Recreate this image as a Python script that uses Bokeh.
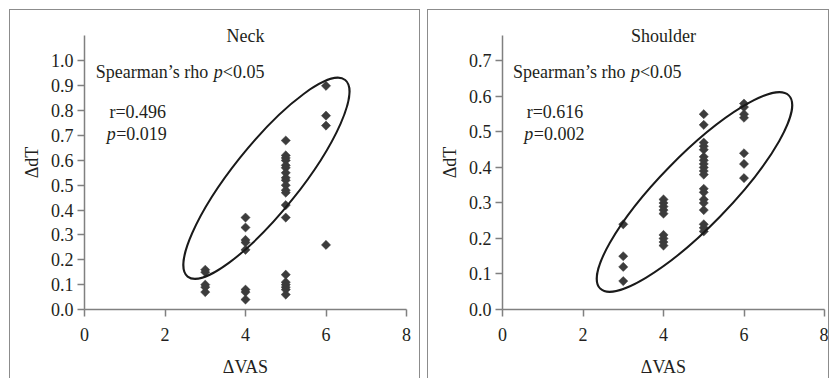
import numpy as np
from bokeh.plotting import figure
from bokeh.layouts import row
from bokeh.models import Label, FixedTicker, PrintfTickFormatter
from bokeh.embed import file_html
from bokeh.resources import INLINE

# ---------------- data ----------------
neck_vas = [3, 3, 3, 3, 3,
            4, 4, 4, 4, 4, 4, 4, 4,
            5, 5, 5, 5, 5, 5, 5, 5, 5, 5, 5, 5, 5, 5, 5, 5, 5, 5, 5, 5,
            6, 6, 6, 6]
neck_dt = [0.16, 0.15, 0.10, 0.09, 0.07,
           0.37, 0.33, 0.28, 0.27, 0.24, 0.08, 0.07, 0.04,
           0.68, 0.62, 0.61, 0.60, 0.58, 0.57, 0.55, 0.53, 0.52, 0.50, 0.48, 0.47,
           0.42, 0.37, 0.14, 0.11, 0.10, 0.09, 0.08, 0.06,
           0.90, 0.78, 0.74, 0.26]

shoulder_vas = [3, 3, 3, 3,
                4, 4, 4, 4, 4, 4, 4, 4, 4,
                5, 5, 5, 5, 5, 5, 5, 5, 5, 5, 5, 5, 5, 5, 5, 5, 5, 5, 5,
                6, 6, 6, 6, 6, 6, 6]
shoulder_dt = [0.24, 0.15, 0.12, 0.08,
               0.31, 0.30, 0.29, 0.28, 0.27, 0.21, 0.20, 0.19, 0.18,
               0.55, 0.52, 0.47, 0.46, 0.45, 0.43, 0.42, 0.41, 0.40, 0.39, 0.38,
               0.34, 0.33, 0.31, 0.30, 0.28, 0.24, 0.23, 0.22,
               0.58, 0.57, 0.55, 0.54, 0.44, 0.41, 0.37]

x_ticks = [0, 2, 4, 6, 8]
neck_y_ticks = [0.0, 0.1, 0.2, 0.3, 0.4, 0.5, 0.6, 0.7, 0.8, 0.9, 1.0]
shoulder_y_ticks = [0.0, 0.1, 0.2, 0.3, 0.4, 0.5, 0.6, 0.7]

titles = ["Neck", "Shoulder"]
r_texts = ["r=0.496", "r=0.616"]
p_texts = ["=0.019", "=0.002"]

FONT = "Liberation Serif"
TXT = "#231f20"
FS = "18px"


def make_panel(vas, dt, yticks, yend, ybound, title, rtxt, ptxt, width, mbl, mbr,
               ell, title_y, spear_pos, r_pos, p_pos):
    p = figure(width=width, height=369, x_range=(0, 8), y_range=(0, yend),
               output_backend="svg", toolbar_location=None,
               min_border_left=mbl, min_border_right=mbr,
               min_border_top=5, min_border_bottom=66)
    p.outline_line_color = None
    p.xgrid.visible = False
    p.ygrid.visible = False
    p.background_fill_color = "white"
    p.border_fill_color = "white"

    for ax in (p.xaxis[0], p.yaxis[0]):
        ax.axis_line_color = "#808080"
        ax.axis_line_width = 1.5
        ax.major_tick_line_color = "#808080"
        ax.major_tick_line_width = 1.5
        ax.major_tick_in = 0
        ax.major_tick_out = 7
        ax.minor_tick_line_color = None
        ax.major_label_text_font = FONT
        ax.major_label_text_font_size = FS
        ax.major_label_text_color = TXT
        ax.axis_label_text_font = FONT
        ax.axis_label_text_font_size = FS
        ax.axis_label_text_font_style = "normal"
        ax.axis_label_text_color = TXT
    p.xaxis.ticker = FixedTicker(ticks=x_ticks)
    p.yaxis.ticker = FixedTicker(ticks=yticks)
    p.yaxis.bounds = (0, ybound)
    p.yaxis.formatter = PrintfTickFormatter(format="%.1f")
    p.xaxis.axis_label = "ΔVAS"
    p.yaxis.axis_label = "ΔdT"
    p.xaxis.major_label_standoff = 11
    p.xaxis.axis_label_standoff = 13
    p.yaxis.major_label_standoff = 4
    p.yaxis.axis_label_standoff = 6

    p.scatter(vas, dt, marker="square", angle=np.pi / 4, size=6.5,
              fill_color="#3c3c3c", line_color="#3c3c3c", line_width=0.5)

    cx, cy, w, h, ang = ell
    p.ellipse(x=[cx], y=[cy], width=[w], height=[h], angle=[ang],
              width_units="screen", height_units="screen",
              fill_color=None, line_color="#1a1a1a", line_width=2)

    def lab(x, y, text, style="normal", xoff=0, align="left"):
        p.add_layout(Label(x=x, y=y, text=text, x_offset=xoff,
                           text_font=FONT, text_font_size=FS,
                           text_font_style=style, text_color=TXT,
                           text_align=align, text_baseline="middle"))

    lab(4, title_y, title, align="center")
    sx, sy = spear_pos
    lab(sx, sy, "Spearman\u2019s rho")
    lab(sx, sy, "p", style="italic", xoff=118)
    lab(sx, sy, "<0.05", xoff=127)
    lab(r_pos[0], r_pos[1], rtxt)
    lab(p_pos[0], p_pos[1], "p", style="italic")
    lab(p_pos[0], p_pos[1], ptxt, xoff=9.5)
    return p


p1 = make_panel(neck_vas, neck_dt, neck_y_ticks, 1.183, 1.103, titles[0], r_texts[0], p_texts[0],
                411, 74, 15, (4.52, 0.528, 252, 67, np.radians(51.3)), 1.10,
                (0.28, 0.956), (0.62, 0.794), (0.55, 0.706))
p2 = make_panel(shoulder_vas, shoulder_dt, shoulder_y_ticks, 0.828, 0.772, titles[1], r_texts[1], p_texts[1],
                402, 74, 6, (4.77, 0.331, 270, 71, np.radians(45.7)), 0.770,
                (0.26, 0.669), (0.60, 0.556), (0.54, 0.494))

border = "1px solid #8c8c8c"
p1.styles = {"border-top": border, "border-left": border, "border-right": border,
             "margin-left": "9px", "margin-top": "9px"}
p2.styles = {"border-top": border, "border-left": border, "border-right": border,
             "margin-top": "9px"}

layout = row(p1, p2, spacing=7)
open("out.html", "w").write(file_html(layout, INLINE))
